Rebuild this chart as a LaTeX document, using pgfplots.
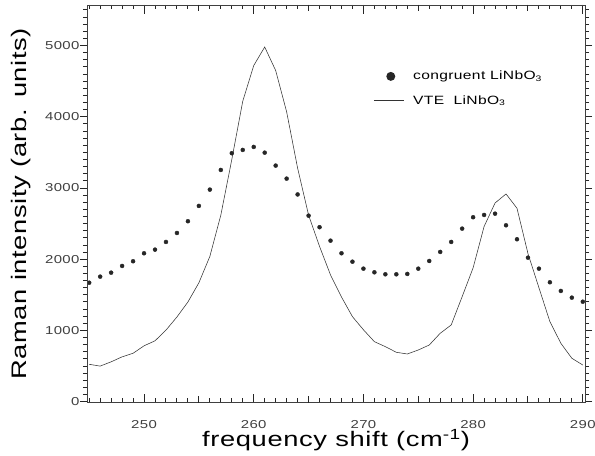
\documentclass[border=0pt]{standalone}
\usepackage{fontspec}
\setmainfont{Liberation Sans}
\newfontfamily\wide[FakeStretch=1.3,LetterSpace=3]{Liberation Sans}
\usepackage{pgfplots}
\usepackage{pgfplotstable}
\pgfplotsset{compat=1.18}

% congruent LiNbO3 (dots)
\pgfplotstableread{
x y
245 1671
246 1756
247 1812
248 1906
249 1972
250 2084
251 2135
252 2243
253 2369
254 2534
255 2749
256 2978
257 3254
258 3489
259 3535
260 3577
261 3497
262 3315
263 3132
264 2910
265 2612
266 2450
267 2261
268 2084
269 1966
270 1868
271 1817
272 1789
273 1789
274 1794
275 1868
276 1976
277 2103
278 2243
279 2430
280 2590
281 2622
282 2640
283 2477
284 2281
285 2022
286 1868
287 1677
288 1555
289 1461
290 1404
}\congruent

% VTE LiNbO3 (line)
\pgfplotstableread{
x y
245 525
246 500
247 560
248 630
249 680
250 785
251 855
252 1005
253 1190
254 1400
255 1670
256 2040
257 2620
258 3400
259 4220
260 4720
261 4980
262 4650
263 4070
264 3280
265 2620
266 2180
267 1780
268 1470
269 1194
270 1010
271 843
272 773
273 694
274 670
275 726
276 796
277 961
278 1077
279 1475
280 1880
281 2460
282 2790
283 2917
284 2716
285 2080
286 1600
287 1124
288 820
289 610
290 515
}\vte

\begin{document}
\begin{tikzpicture}
\pgfplotsset{
  base/.style={
    scale only axis, width=498pt, height=397.7pt,
    xmin=244.8, xmax=290.2, ymin=-14, ymax=5570,
    axis line style={black!75, line width=0.8pt},
    tick style={black!85, line width=1pt},
    /pgf/number format/assume math mode=true,
    /pgf/number format/1000 sep={},
    scaled ticks=false,
    ticklabel style={font=\wide\fontsize{11.5}{13}\selectfont, text=black!75},
  }
}
% y ticks point outward
\begin{axis}[base,
  tick align=outside,
  ytick pos=both,
  yticklabel pos=left,
  xtick=\empty,
  ytick={0,1000,...,5000},
  minor ytick={0,100,...,5500},
  major tick length=7pt, minor tick length=4pt,
  yticklabel style={xshift=3pt},
  every axis y label/.style={at={([xshift=-60.5pt]axis description cs:0,0.5)}, rotate=90, anchor=base},
  ylabel={\wide\fontsize{21}{24}\selectfont Raman intensity (arb. units)},
  legend style={draw=none, fill=none, at={(axis cs:270.9,4670)}, anchor=north west,
    font=\wide\fontsize{12}{14}\selectfont, row sep=10pt, inner sep=0pt,
    /tikz/every odd column/.append style={column sep=7pt}},
  legend cell align=left,
]
\addplot[only marks, mark=*, mark size=2pt, black!85,
  legend image code/.code={\path[draw=none] (0pt,0pt) -- (30pt,0pt); \fill[draw=none] (17pt,0pt) circle (4.5pt);}]
  table[x=x, y=y] {\congruent};
\addlegendentry{congruent LiNbO\textsubscript{3}}
\addplot[black!80, line width=0.55pt,
  legend image code/.code={\draw[line width=0.6pt] (0pt,0pt) -- (30pt,0pt);}]
  table[x=x, y=y] {\vte};
\addlegendentry{VTE~~LiNbO\textsubscript{3}}
\coordinate (bl) at (rel axis cs:0,0);
\coordinate (tr) at (rel axis cs:1,1);
\end{axis}
% x ticks point inward
\begin{axis}[base,
  tick align=inside,
  xtick pos=both,
  xticklabel pos=bottom,
  ytick=\empty,
  xtick={250,260,...,290},
  minor xtick={245,...,290},
  extra x ticks={255,265,275,285},
  extra x tick labels={},
  extra x tick style={major tick length=6.5pt},
  major tick length=9pt, minor tick length=4.5pt,
  xticklabel style={yshift=-14pt},
  every axis x label/.style={at={([yshift=-44pt]axis description cs:0.5,0)}, anchor=base},
  xlabel={\wide\fontsize{21}{24}\selectfont frequency shift (cm\textsuperscript{-1})},
]
\end{axis}
\pgfresetboundingbox
\path[use as bounding box] ([shift={(-87pt,-52.3pt)}]bl) rectangle ([shift={(10pt,5pt)}]tr);
\end{tikzpicture}
\end{document}
